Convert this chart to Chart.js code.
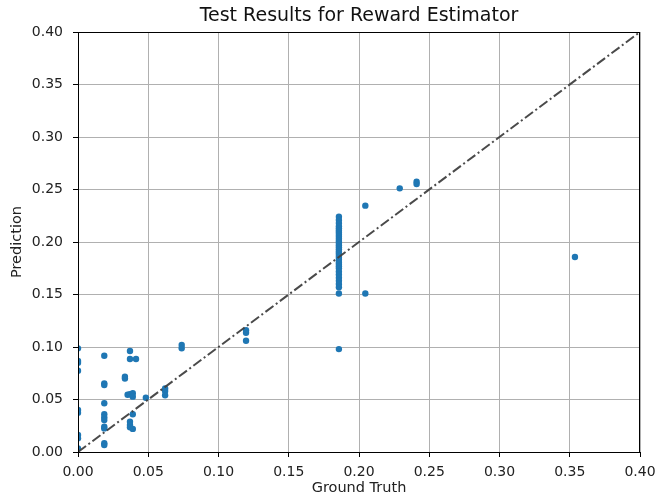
<!DOCTYPE html>
<html>
<head>
<meta charset="utf-8">
<script src="https://cdn.jsdelivr.net/npm/chart.js@4/dist/chart.umd.min.js"></script>
<style>
  html, body { margin: 0; padding: 0; background: #fff; }
  #wrap { width: 657px; height: 497px; }
</style>
</head>
<body>
<div id="wrap"><canvas id="chart"></canvas></div>
<script>
// ground truth / prediction pairs
var groundTruth = [
    0, 0, 0, 0, 0, 0, 0, 0, 0,
    0.0187, 0.0187, 0.0187, 0.0187, 0.0187, 0.0187, 0.0187, 0.0187, 0.0187, 0.0187, 0.0187,
    0.0334, 0.0334,
    0.0353, 0.037, 0.037, 0.037, 0.037, 0.037, 0.037,
    0.039, 0.039, 0.039, 0.039, 0.0413, 0.0483,
    0.062, 0.062, 0.062,
    0.0738, 0.0738,
    0.1196, 0.1196, 0.1196,
    0.1857, 0.1857, 0.1857, 0.1857, 0.1857, 0.1857, 0.1857, 0.1857, 0.1857, 0.1857,
    0.1857, 0.1857, 0.1857, 0.1857, 0.1857, 0.1857, 0.1857, 0.1857, 0.1857, 0.1857,
    0.1857, 0.1857, 0.1857, 0.1857, 0.1857, 0.1857, 0.1857, 0.1857, 0.1857, 0.1857,
    0.1857, 0.1857,
    0.2045, 0.2045,
    0.229, 0.241, 0.241,
    0.3537
];
var prediction = [
    0.0987, 0.0867, 0.085, 0.0775, 0.040, 0.0375, 0.0162, 0.013, 0.0035,
    0.0917, 0.0654, 0.0638, 0.0464, 0.036, 0.033, 0.0305, 0.024, 0.0225, 0.0083, 0.0067,
    0.0717, 0.070,
    0.0545, 0.0962, 0.0886, 0.055, 0.0289, 0.0257, 0.0235,
    0.0559, 0.0527, 0.036, 0.022, 0.0886, 0.0517,
    0.0605, 0.058, 0.054,
    0.1019, 0.0988,
    0.116, 0.1136, 0.106,
    0.224, 0.221, 0.218, 0.215, 0.213, 0.211, 0.209, 0.207, 0.205, 0.203,
    0.201, 0.199, 0.197, 0.195, 0.193, 0.191, 0.189, 0.187, 0.185, 0.183,
    0.181, 0.179, 0.177, 0.175, 0.172, 0.169, 0.166, 0.163, 0.160, 0.157,
    0.151, 0.098,
    0.2346, 0.151,
    0.2511, 0.2574, 0.2552,
    0.1857
];
var identityLine = [0, 0.4];
var tickValues = [0, 0.05, 0.10, 0.15, 0.20, 0.25, 0.30, 0.35, 0.40];

var points = groundTruth.map(function (gt, i) {
    return { x: gt, y: prediction[i] };
});
var diagonal = identityLine.map(function (v) {
    return { x: v, y: v };
});

// matplotlib draws all four spines, chart.js only the axis ones
var frame = {
    id: 'frame',
    afterDraw: function (chart) {
        var a = chart.chartArea, ctx = chart.ctx;
        ctx.save();
        ctx.strokeStyle = '#000';
        ctx.lineWidth = 1;
        ctx.strokeRect(a.left + 0.5, a.top + 0.5, a.right - a.left - 1, a.bottom - a.top);
        ctx.restore();
    }
};

function axis(title, tickPad, titlePad, size) {
    return {
        type: 'linear',
        min: 0,
        max: 0.4,
        afterBuildTicks: function (scale) {
            scale.ticks = tickValues.map(function (v) { return { value: v }; });
        },
        ticks: {
            color: '#222',
            font: { family: 'DejaVu Sans', size: 14 },
            padding: tickPad,
            callback: function (v) { return v.toFixed(2); }
        },
        grid: {
            color: '#b0b0b0',
            lineWidth: 1,
            tickColor: '#000',
            tickLength: 5
        },
        border: { color: '#000', width: 1 },
        title: {
            display: true,
            text: title,
            color: '#222',
            font: { family: 'DejaVu Sans', size: 14.5 },
            padding: titlePad
        },
        afterFit: size
    };
}

var ctx = document.getElementById('chart').getContext('2d');
var myChart = new Chart(ctx, {
    type: 'scatter',
    data: {
        datasets: [{
            label: 'Prediction',
            data: points,
            backgroundColor: '#1f77b4',
            borderColor: '#1f77b4',
            pointRadius: 3.2,
            pointBorderWidth: 0,
            order: 1
        }, {
            label: 'y = x',
            type: 'line',
            data: diagonal,
            borderColor: 'rgba(64, 64, 64, 0.95)',
            borderWidth: 2,
            borderDash: [10, 3, 2, 3],
            pointRadius: 0,
            fill: false,
            order: 0
        }]
    },
    options: {
        responsive: true,
        maintainAspectRatio: false,
        animation: false,
        layout: { padding: { left: 0, right: 17, top: 0, bottom: 0 } },
        plugins: {
            legend: { display: false },
            tooltip: { enabled: false },
            title: {
                display: true,
                fullSize: false,
                text: 'Test Results for Reward Estimator',
                color: '#111',
                font: { family: 'DejaVu Sans', size: 19, weight: 'normal' },
                padding: { top: 4.5, bottom: 4.7 }
            }
        },
        scales: {
            x: axis('Ground Truth', 7, { top: 0, bottom: 0 }, function (scale) {
                scale.height = 45;
                scale.paddingLeft = 0;
                scale.paddingRight = 0;
            }),
            y: axis('Prediction', 10, { top: 9, bottom: 0 }, function (scale) {
                scale.width = 78;
                scale.paddingTop = 0;
                scale.paddingBottom = 0;
            })
        }
    },
    plugins: [frame]
});
</script>
</body>
</html>
